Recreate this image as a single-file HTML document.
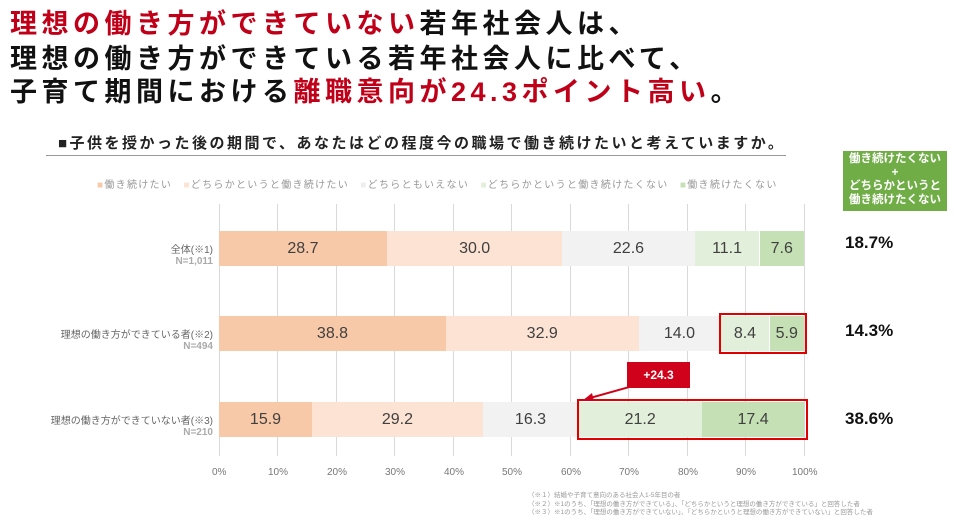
<!DOCTYPE html>
<html><head><meta charset="utf-8"><style>
body{margin:0;width:963px;height:522px;background:#fff;position:relative;overflow:hidden;font-family:"Liberation Sans","Noto Sans CJK JP",sans-serif}
.a{position:absolute;white-space:nowrap}
.t{font-size:27px;font-weight:bold;color:#111;left:10px;line-height:32px;letter-spacing:4.5px}
.r{color:#c00018}
.seg{position:absolute;height:100%;top:0;display:flex;align-items:center;justify-content:center;font-size:16px;color:#404040}
.bar{position:absolute;left:219px;width:585px;height:35px}
.lab{font-size:10px;color:#666;text-align:right;right:750px}
.n{font-size:10px;color:#aaa;font-weight:bold}
.g{position:absolute;top:204px;height:252px;width:1px;background:#d9d9d9}
.tick{font-size:10px;color:#777;top:467px}
.pct{font-size:17px;font-weight:bold;left:845px;color:#111}
</style></head><body>
<div class="a t" style="top:8px"><span class="r">理想の働き方ができていない</span>若年社会人は、</div>
<div class="a t" style="top:43px">理想の働き方ができている若年社会人に比べて、</div>
<div class="a t" style="top:76px">子育て期間における<span class="r">離職意向が24.3ポイント高い</span>。</div>
<div class="a" style="left:58px;top:132px;font-size:15px;font-weight:bold;color:#222;letter-spacing:2.5px">■子供を授かった後の期間で、あなたはどの程度今の職場で働き続けたいと考えていますか。</div>
<div class="a" style="left:46px;top:155px;width:740px;height:1px;background:#999"></div>
<div class="a" style="left:97px;top:176px;font-size:10px;color:#999;letter-spacing:1.3px"><span style="color:#f8c9a8">■</span>働き続けたい　<span style="color:#fce3d3">■</span>どちらかというと働き続けたい　<span style="color:#eee">■</span>どちらともいえない　<span style="color:#e2efda">■</span>どちらかというと働き続けたくない　<span style="color:#c5e0b4">■</span>働き続けたくない</div>
<div class="a" style="left:843px;top:151px;width:104px;height:58px;background:#70ad47;color:#fff;font-size:11.5px;font-weight:bold;text-align:center;line-height:13.5px;padding-top:2px">働き続けたくない<br>+<br>どちらかというと<br>働き続けたくない</div>
<div class="g" style="left:219px"></div><div class="g" style="left:277px"></div><div class="g" style="left:336px"></div><div class="g" style="left:394px"></div><div class="g" style="left:453px"></div><div class="g" style="left:511px"></div><div class="g" style="left:570px"></div><div class="g" style="left:628px"></div><div class="g" style="left:687px"></div><div class="g" style="left:745px"></div><div class="g" style="left:804px"></div>
<div class="bar" style="top:231px">
<div class="seg" style="left:0;width:167.9px;background:#f8c9a8">28.7</div><div class="seg" style="left:167.9px;width:175.5px;background:#fce3d3">30.0</div><div class="seg" style="left:343.4px;width:132.2px;background:#f2f2f2">22.6</div><div class="seg" style="left:475.6px;width:64.9px;background:#e2efda">11.1</div><div class="seg" style="left:540.5px;width:44.5px;background:#c5e0b4">7.6</div></div>
<div class="bar" style="top:316px">
<div class="seg" style="left:0;width:227px;background:#f8c9a8">38.8</div><div class="seg" style="left:227px;width:192.5px;background:#fce3d3">32.9</div><div class="seg" style="left:419.5px;width:81.9px;background:#f2f2f2">14.0</div><div class="seg" style="left:501.4px;width:49.1px;background:#e2efda">8.4</div><div class="seg" style="left:550.5px;width:34.5px;background:#c5e0b4">5.9</div></div>
<div class="bar" style="top:402px">
<div class="seg" style="left:0;width:93px;background:#f8c9a8">15.9</div><div class="seg" style="left:93px;width:170.8px;background:#fce3d3">29.2</div><div class="seg" style="left:263.8px;width:95.4px;background:#f2f2f2">16.3</div><div class="seg" style="left:359.2px;width:124px;background:#e2efda">21.2</div><div class="seg" style="left:483.2px;width:101.8px;background:#c5e0b4">17.4</div></div>
<div class="a" style="left:719px;top:313px;width:84px;height:37px;border:2px solid #e00000"></div>
<div class="a" style="left:577px;top:399px;width:227px;height:37px;border:2px solid #e00000"></div>
<div class="a" style="left:627px;top:362px;width:63px;height:26px;background:#d0021b;color:#fff;font-size:12px;font-weight:bold;text-align:center;line-height:26px">+24.3</div>
<svg class="a" style="left:0;top:0" width="963" height="522"><line x1="640" y1="384" x2="590" y2="398" stroke="#d0021b" stroke-width="2"/><polygon points="582,401 592,393 594,401" fill="#d0021b"/></svg>
<div class="a lab" style="top:241px">全体(※1)</div><div class="a n" style="right:750px;top:256px">N=1,011</div>
<div class="a lab" style="top:326px">理想の働き方ができている者(※2)</div><div class="a n" style="right:750px;top:341px">N=494</div>
<div class="a lab" style="top:412px">理想の働き方ができていない者(※3)</div><div class="a n" style="right:750px;top:427px">N=210</div>
<div class="a pct" style="top:233px">18.7%</div><div class="a pct" style="top:321px">14.3%</div><div class="a pct" style="top:409px">38.6%</div>
<div class="a tick" style="left:212px">0%</div><div class="a tick" style="left:268px">10%</div><div class="a tick" style="left:327px">20%</div><div class="a tick" style="left:385px">30%</div><div class="a tick" style="left:444px">40%</div><div class="a tick" style="left:502px">50%</div><div class="a tick" style="left:561px">60%</div><div class="a tick" style="left:619px">70%</div><div class="a tick" style="left:678px">80%</div><div class="a tick" style="left:736px">90%</div><div class="a tick" style="left:792px">100%</div>
<div class="a" style="left:528px;top:492px;font-size:6.5px;color:#999;line-height:8.5px">（※１）結婚や子育て意向のある社会人1-5年目の者<br>（※２）※1のうち、「理想の働き方ができている」、「どちらかというと理想の働き方ができている」と回答した者<br>（※３）※1のうち、「理想の働き方ができていない」、「どちらかというと理想の働き方ができていない」と回答した者</div>
</body></html>
